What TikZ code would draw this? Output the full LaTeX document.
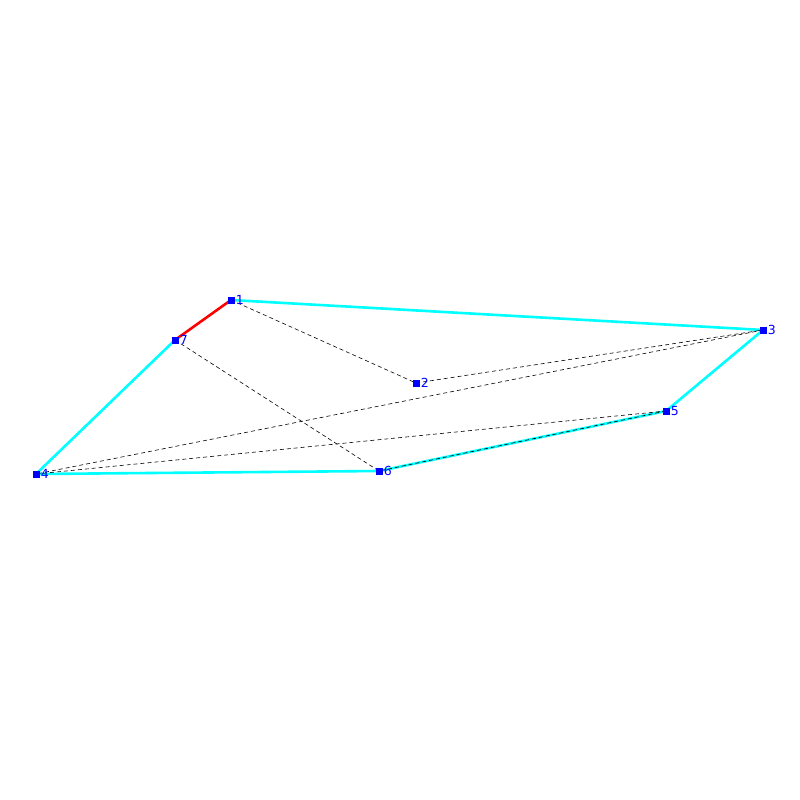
\documentclass[tikz,border=0pt]{standalone}
\usepackage{fontspec}
\setsansfont{DejaVu Sans}
\definecolor{hullcyan}{RGB}{0,255,255}
\definecolor{ptblue}{RGB}{0,0,255}
\tikzset{
    pt/.style={rectangle, fill=ptblue, minimum size=7pt, inner sep=0pt,
        label={[ptblue, font=\sffamily\fontsize{12.5}{12.5}\selectfont, inner sep=1pt]right:#1}},
    hull/.style={hullcyan, line width=2.6pt},
    cut/.style={red, line width=2.6pt},
    diag/.style={black, line width=0.6pt, dash pattern=on 4pt off 3pt}
}
\begin{document}
\begin{tikzpicture}[x=1pt, y=-1pt]

        % Canvas
        \useasboundingbox (0, 0) rectangle (800, 800);

        % Points
        \coordinate (p1) at (231, 300);
        \coordinate (p2) at (416, 383);
        \coordinate (p3) at (763, 330);
        \coordinate (p4) at (36, 474);
        \coordinate (p5) at (666, 411);
        \coordinate (p6) at (379, 471);
        \coordinate (p7) at (175, 340);

        % Outer edges
        \draw[hull] (p1) -- (p3);
        \draw[hull] (p3) -- (p5);
        \draw[hull] (p5) -- (p6);
        \draw[hull] (p6) -- (p4);
        \draw[hull] (p4) -- (p7);
        \draw[cut] (p7) -- (p1);

        % Inner edges
        \draw[diag] (p1) -- (p2);
        \draw[diag] (p2) -- (p3);
        \draw[diag] (p3) -- (p4);
        \draw[diag] (p4) -- (p5);
        \draw[diag] (p5) -- (p6);
        \draw[diag] (p7) -- (p6);

        % Markers
        \node (n1) [pt=1] at (p1) {};
        \node (n2) [pt=2] at (p2) {};
        \node (n3) [pt=3] at (p3) {};
        \node (n4) [pt=4] at (p4) {};
        \node (n5) [pt=5] at (p5) {};
        \node (n6) [pt=6] at (p6) {};
        \node (n7) [pt=7] at (p7) {};

    \end{tikzpicture}
\end{document}
